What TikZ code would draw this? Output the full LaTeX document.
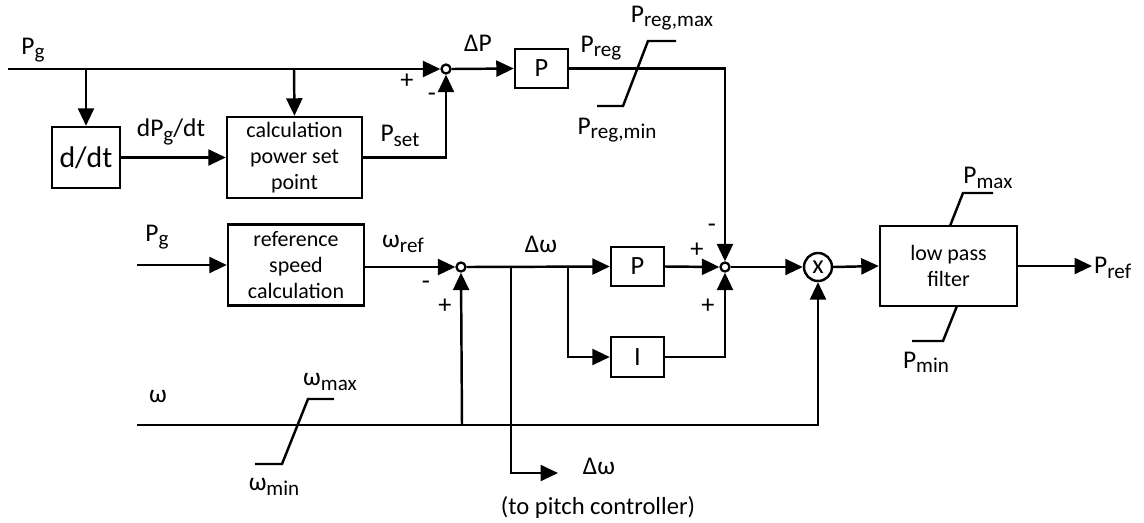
\documentclass[tikz,border=0pt]{standalone}
\usepackage{fontspec}
\setmainfont{Carlito}
\usetikzlibrary{arrows.meta}
\newcommand{\lsub}[1]{\raisebox{-0.35ex}{\fontsize{12}{13}\selectfont #1}}
\begin{document}
\begin{tikzpicture}[x=0.02cm,y=-0.02cm,
  line width=1.4pt,
  arr/.style={-{Triangle[length=0.35cm,width=0.32cm]}},
  blk/.style={draw,line width=1.4pt,inner sep=0pt,align=center,font=\fontsize{12.5}{15}\selectfont},
  sumj/.style={draw,circle,line width=1.3pt,minimum size=0.18cm,inner sep=0pt},
  lab/.style={font=\fontsize{14.5}{16}\selectfont,inner sep=0pt},
  sgn/.style={font=\fontsize{15}{16}\selectfont,inner sep=0pt}]
\useasboundingbox (0,0) rectangle (1144,522);
% blocks
\node[blk,minimum width=1.36cm,minimum height=1.22cm,font=\fontsize{17}{19}\selectfont] (ddt) at (86,157.5) {d/dt};
\node[blk,minimum width=2.7cm,minimum height=1.62cm] (calc) at (294.5,157.5) {calculation\\power set\\point};
\node[blk,minimum width=2.72cm,minimum height=1.62cm] (ref) at (296,265) {reference\\speed\\calculation};
\node[blk,minimum width=1.06cm,minimum height=0.78cm,font=\fontsize{15}{16}\selectfont] (pb1) at (541.5,68.5) {P};
\node[blk,minimum width=1.06cm,minimum height=0.78cm,font=\fontsize{15}{16}\selectfont] (pb2) at (637.5,266.5) {P};
\node[blk,minimum width=1.06cm,minimum height=0.8cm,font=\fontsize{15}{16}\selectfont] (ib) at (637.5,357) {I};
\node[blk,minimum width=2.74cm,minimum height=1.6cm] (lpf) at (948.5,266) {low pass\\filter};
\node[sumj] (s1) at (446,69) {};
\node[sumj] (s3) at (461,267) {};
\node[sumj] (s2) at (725,267) {};
\node[draw,circle,line width=1.4pt,minimum size=0.56cm,inner sep=0pt,font=\fontsize{15}{16}\selectfont] (mul) at (818,267) {x};
% coordinates
\coordinate (pgin) at (8,69);
\coordinate (pgin2) at (137,265);
\coordinate (win) at (137,425);
\coordinate (br1) at (86,69);
\coordinate (br2) at (294,69);
\coordinate (br3) at (462,425);
\coordinate (br4) at (511,267);
\coordinate (br5) at (568,267);
\coordinate (dwo) at (558,473);
\coordinate (pref) at (1092,266);
% connectors
\draw[arr] (pgin) -- (s1.west);
\draw[arr] (br1) -- (ddt.north);
\draw[arr] (br2) -- (calc.north);
\draw[arr] (ddt.east) -- (calc.west);
\draw[arr] (calc.east) -| (s1.south);
\draw[arr] (s1.east) -- (pb1.west);
\draw[arr] (pb1.east) -| (s2.north);
\draw[arr] (pgin2) -- (ref.west);
\draw[arr] (ref.east |- s3) -- (s3.west);
\draw[arr] (s3.east) -- (pb2.west);
\draw[arr] (br4) |- (dwo);
\draw[arr] (br5) |- (ib.west);
\draw[arr] (pb2.east) -- (s2.west);
\draw[arr] (ib.east) -| (s2.south);
\draw[arr] (s2.east) -- (mul.west);
\draw[arr] (mul.east) -- (lpf.west);
\draw[arr] (lpf.east) -- (pref);
\draw[arr] (win) -| (mul.south);
\draw[arr] (br3) -- (s3.south);
% limiters
\draw (597,106) -- (623,106) -- (648,41) -- (676,41);
\draw (255,464) -- (282,464) -- (308,399) -- (334,399);
\draw (950,226) -- (963,193) -- (993,193);
\draw (957,306) -- (943,341) -- (912,341);
% labels
\node[lab] (l1) at (33,50) {P\lsub{g}};
\node[lab] (l2) at (171,132) {dP\lsub{g}/dt};
\node[lab] (l3) at (400,136) {P\lsub{set}};
\node[lab] (l4) at (478,43) {ΔP};
\node[lab] (l5) at (601,48) {P\lsub{reg}};
\node[lab] (l6) at (672,18) {P\lsub{reg,max}};
\node[lab] (l7) at (617,130) {P\lsub{reg,min}};
\node[lab] (l8) at (157,237) {P\lsub{g}};
\node[lab] (l9) at (403,244) {ω\lsub{ref}};
\node[lab] (l10) at (541,244) {Δω};
\node[lab] (l11) at (158,397) {ω};
\node[lab] (l12) at (330,382) {ω\lsub{max}};
\node[lab] (l13) at (274,487) {ω\lsub{min}};
\node[lab] (l14) at (599,466) {Δω};
\node[lab,font=\fontsize{14}{16}\selectfont] (l15) at (598,507) {(to pitch controller)};
\node[lab,anchor=west] (l16) at (1093,268) {P\lsub{ref}};
\node[lab] (l17) at (988,178) {P\lsub{max}};
\node[lab] (l18) at (926,362) {P\lsub{min}};
% signs
\node[sgn] (g1) at (407,81) {+};
\node[sgn] (g2) at (432,97) {-};
\node[sgn] (g3) at (426,285) {-};
\node[sgn] (g4) at (445,306) {+};
\node[sgn] (g5) at (712,228) {-};
\node[sgn] (g6) at (697,250) {+};
\node[sgn] (g7) at (708,306) {+};
\end{tikzpicture}
\end{document}
